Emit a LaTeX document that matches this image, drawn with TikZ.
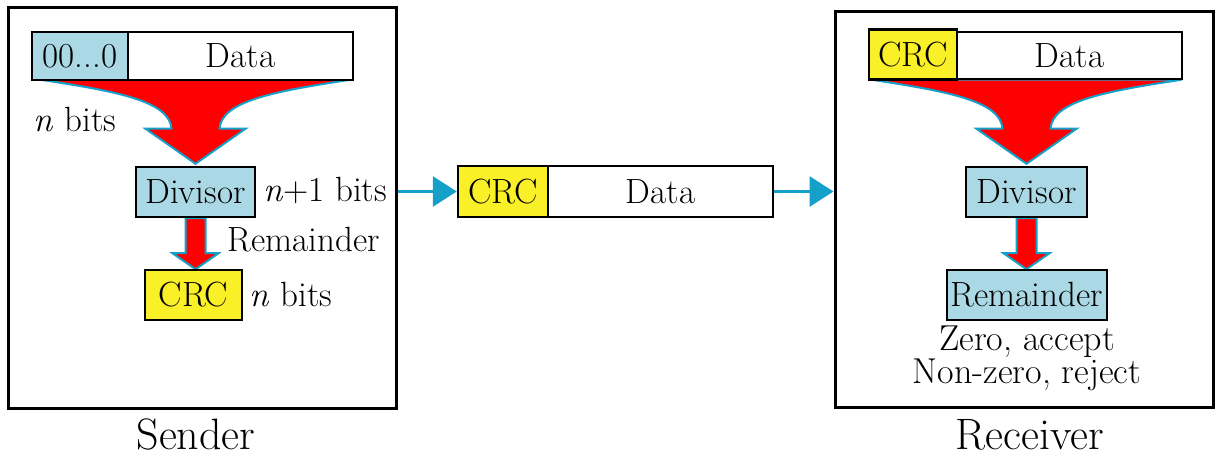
\documentclass[tikz,border=0pt]{standalone}
\usetikzlibrary{arrows.meta,backgrounds}
\definecolor{cellblue}{RGB}{170,216,228}
\definecolor{cellyellow}{RGB}{250,240,40}
\definecolor{flowred}{RGB}{255,0,0}
\definecolor{linkteal}{RGB}{20,160,200}
\begin{document}
\begin{tikzpicture}[x=1pt,y=-1pt,
  txt/.style={inner sep=0pt,font=\fontsize{35}{38}\selectfont},
  cell/.style={txt,draw=black,line width=2.5pt},
  bluecell/.style={cell,fill=cellblue},
  yellowcell/.style={cell,fill=cellyellow},
  whitecell/.style={cell,fill=white},
  frame/.style={draw=black,line width=3pt,inner sep=0pt},
  caption/.style={inner sep=0pt,font=\fontsize{44}{48}\selectfont},
  link/.style={draw=linkteal,line width=3pt,-{Triangle[length=24pt,width=30pt]}},
  flow/.style={fill=flowred,draw=linkteal,line width=2pt,line join=miter},
  funnel/.pic={\path[flow] (-155,-86) .. controls (-75,-74) and (-26,-64) .. (-24,-37)
      -- (-50,-37) -- (0,-2) -- (50,-37) -- (24,-37)
      .. controls (26,-64) and (75,-74) .. (155,-86) -- cycle;},
  shortflow/.pic={\path[flow] (-10,0) -- (-10,35) -- (-23,35) -- (0,51) -- (23,35) -- (10,35) -- (10,0) -- cycle;}
]
\useasboundingbox (0,0) rectangle (1216,457);

% frames
\node[frame,minimum width=388pt,minimum height=400pt] (sframe) at (202,208) {};
\node[frame,minimum width=378pt,minimum height=395pt] (rframe) at (1024,209.5) {};
\node[caption] (slabel) at (196,434) {Sender};
\node[caption] (rlabel) at (1030,435) {Receiver};

% sender
\node[bluecell,minimum width=96pt,minimum height=48pt] (szero) at (80,56) {00...0};
\node[whitecell,minimum width=225pt,minimum height=48pt] (sdata) at (240.5,56) {Data};
\node[bluecell,minimum width=119pt,minimum height=50pt] (sdiv) at (195.5,192) {Divisor};
\node[yellowcell,minimum width=97pt,minimum height=50pt] (scrc) at (193.5,295) {CRC};
\node[txt] (snbits) at (75,120) {\textit{n} bits};
\node[txt] (sn1bits) at (325,190) {\textit{n}+1 bits};
\node[txt] (srem) at (304,240) {Remainder};
\node[txt] (scrcbits) at (291,295) {\textit{n} bits};

% middle frame
\node[yellowcell,minimum width=90pt,minimum height=51pt] (mcrc) at (503,191.5) {CRC};
\node[whitecell,minimum width=225pt,minimum height=51pt] (mdata) at (660.5,191.5) {Data};

% receiver
\node[yellowcell,minimum width=88pt,minimum height=50pt] (rcrc) at (913,54.5) {CRC};
\node[whitecell,minimum width=225pt,minimum height=47pt] (rdata) at (1069.5,55.5) {Data};
\node[bluecell,minimum width=121pt,minimum height=50pt] (rdiv) at (1026.5,192) {Divisor};
\node[bluecell,minimum width=160pt,minimum height=50pt] (rrem) at (1027,295) {Remainder};
\node[txt,font=\fontsize{36}{38}\selectfont] (raccept) at (1027,342) {Zero, accept};
\node[txt,font=\fontsize{36}{38}\selectfont] (rreject) at (1027,375) {Non-zero, reject};

% flows (behind the cells)
\begin{scope}[on background layer]
  \pic at (sdiv.north) {funnel};
  \pic at (rdiv.north) {funnel};
  \pic at (sdiv.south) {shortflow};
  \pic at (rdiv.south) {shortflow};
\end{scope}

% links
\draw[link] (sframe.east |- mcrc.west) -- (mcrc.west);
\draw[link] (mdata.east) -- (rframe.west |- mdata.east);
\end{tikzpicture}
\end{document}
